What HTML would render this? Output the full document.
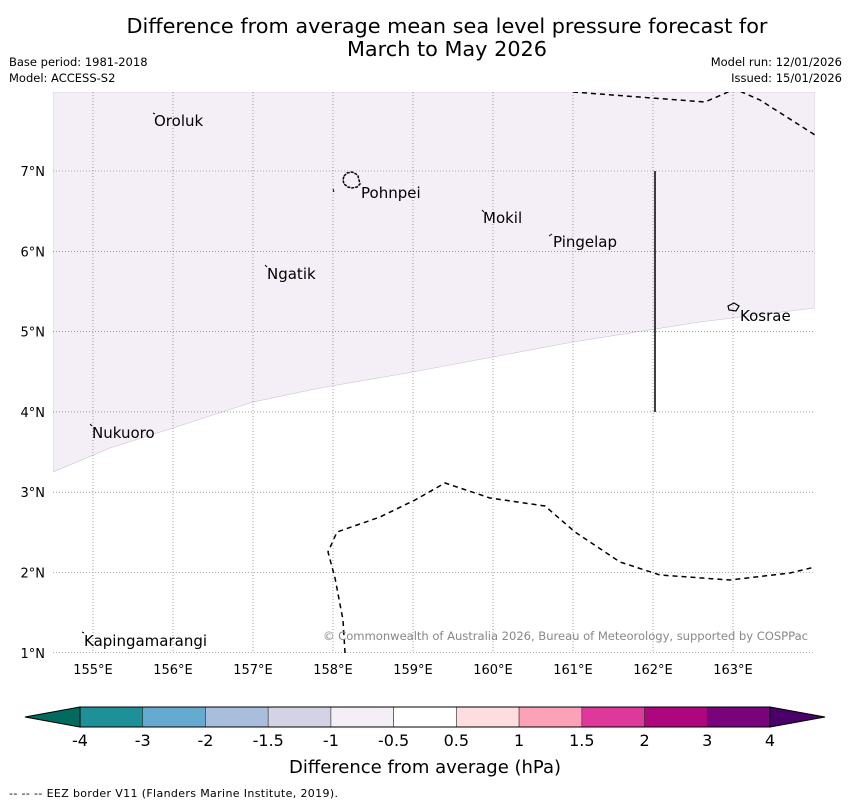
<!DOCTYPE html>
<html><head><meta charset="utf-8"><style>
body{margin:0;background:#fff;width:850px;height:804px;overflow:hidden;font-family:"Liberation Sans","DejaVu Sans",sans-serif}
</style></head><body>
<svg width="850" height="804" xmlns="http://www.w3.org/2000/svg" font-family="DejaVu Sans, Liberation Sans, sans-serif">
<text x="447" y="33" font-size="20.8" text-anchor="middle">Difference from average mean sea level pressure forecast for</text>
<text x="447" y="56" font-size="20.8" text-anchor="middle">March to May 2026</text>
<text x="9" y="66" font-size="11.5">Base period: 1981-2018</text>
<text x="9" y="82" font-size="11.5">Model: ACCESS-S2</text>
<text x="842" y="66" font-size="11.5" text-anchor="end">Model run: 12/01/2026</text>
<text x="842" y="82" font-size="11.5" text-anchor="end">Issued: 15/01/2026</text>
<g>
<clipPath id="c"><rect x="53" y="92" width="762" height="561"/></clipPath>
<g clip-path="url(#c)">
<path d="M53,92 L815,92 L815,308 L700,322 L573,342 L413,372 L320,388 L253,402 L173,428 L110,448 L53,472 Z" fill="#f4eef6" stroke="#ccc0d8" stroke-width="0.6"/>
<g id="grid" stroke="#666" stroke-width="0.6" stroke-dasharray="1,2"></g>
<path d="M573,92 L705,102 L735,89 L760,100 L815,135" fill="none" stroke="#000" stroke-width="1.5" stroke-dasharray="5,4"/>
<path d="M345,653 L343,620 L335,578 L328,552 L337,532 L380,517 L415,500 L445,483 L490,498 L545,506 L575,532 L620,562 L660,575 L730,580 L790,573 L815,567" fill="none" stroke="#000" stroke-width="1.5" stroke-dasharray="5,4"/>
<line x1="655" y1="171" x2="655" y2="412" stroke="#000" stroke-width="1.5"/>
<path d="M344,176 L347,173 L352,172 L356,174 L358,176 L359,180 L360,184 L357,187 L352,188 L348,187 L344,184 L343,180 Z" fill="none" stroke="#000" stroke-width="1.5" stroke-dasharray="3,1"/>
<path d="M728,306 L734,303 L739,306 L736,311 L729,310 Z" fill="none" stroke="#000" stroke-width="1.2"/>
<line x1="333" y1="189" x2="334" y2="192" stroke="#000"/>
<g stroke="#000" stroke-width="1">
<line x1="153" y1="113" x2="155" y2="114"/><line x1="482" y1="210" x2="484" y2="212"/><line x1="549" y1="236" x2="552" y2="234"/>
<line x1="265" y1="265" x2="267" y2="267"/><line x1="90" y1="424" x2="92" y2="426"/><line x1="82" y1="632" x2="84" y2="633"/>
</g>
</g>
<g font-size="15">
<text x="154" y="126">Oroluk</text><text x="361" y="198">Pohnpei</text><text x="483" y="223">Mokil</text>
<text x="553" y="247">Pingelap</text><text x="267" y="279">Ngatik</text><text x="740" y="321">Kosrae</text>
<text x="92" y="438">Nukuoro</text><text x="84" y="646">Kapingamarangi</text>
</g>
<text x="808" y="640" font-size="11.6" fill="#888" text-anchor="end" textLength="485">© Commonwealth of Australia 2026, Bureau of Meteorology, supported by COSPPac</text>
<g id="ticks" font-size="13"></g>
</g>
<g id="cbar"></g>
<text x="425" y="773" font-size="18" text-anchor="middle">Difference from average (hPa)</text>
<text x="9" y="797" font-size="11" textLength="329">--  --  -- EEZ border V11 (Flanders Marine Institute, 2019).</text>
</svg>
<script>
const lons=[155,156,157,158,159,160,161,162,163];
const lats=[7,6,5,4,3,2,1];
const cbLabels=["-4","-3","-2","-1.5","-1","-0.5","0.5","1","1.5","2","3","4"];
const cbColors=["#1e9098","#67aacf","#a8bedc","#d3d3e5","#f4eef6","#ffffff","#fddde0","#fca2b8","#de389a","#ad067f","#79037a"];
const NS="http://www.w3.org/2000/svg";
const xs=l=>93+(l-155)*80, ys=l=>171+(7-l)*80.3;
const g=document.getElementById('grid'),t=document.getElementById('ticks');
function mk(p,tag,a){const e=document.createElementNS(NS,tag);for(const k in a)e.setAttribute(k,a[k]);p.appendChild(e);return e;}
lons.forEach(l=>{const e=mk(g,'line',{x1:xs(l),x2:xs(l),y1:92,y2:653});


const tx=mk(t,'text',{x:xs(l),y:674,'text-anchor':'middle'});tx.textContent=l+'°E';

});
lats.forEach(l=>{const e=mk(g,'line',{x1:53,x2:815,y1:ys(l),y2:ys(l)});


const tx=mk(t,'text',{x:45,y:ys(l)+5,'text-anchor':'end'});tx.textContent=l+'°N';

});
const cb=document.getElementById('cbar');const x0=80,x1=770,w=(x1-x0)/cbColors.length;
mk(cb,'polygon',{points:`${x0},707 ${x0},727 25,717`,fill:'#006b5e',stroke:'#000'});
mk(cb,'polygon',{points:`${x1},707 ${x1},727 825,717`,fill:'#4a0068',stroke:'#000'});
cbColors.forEach((c,i)=>{const r=mk(cb,'rect',{x:x0+i*w,y:707,width:w,height:20,fill:c,stroke:'#333','stroke-width':0.6});

});
mk(cb,'rect',{x:x0,y:707,width:x1-x0,height:20,fill:'none',stroke:'#000'});
cbLabels.forEach((s,i)=>{const tx=mk(cb,'text',{x:x0+i*w,y:746,'text-anchor':'middle','font-size':16});tx.textContent=s;

});
</script>
</body></html>
